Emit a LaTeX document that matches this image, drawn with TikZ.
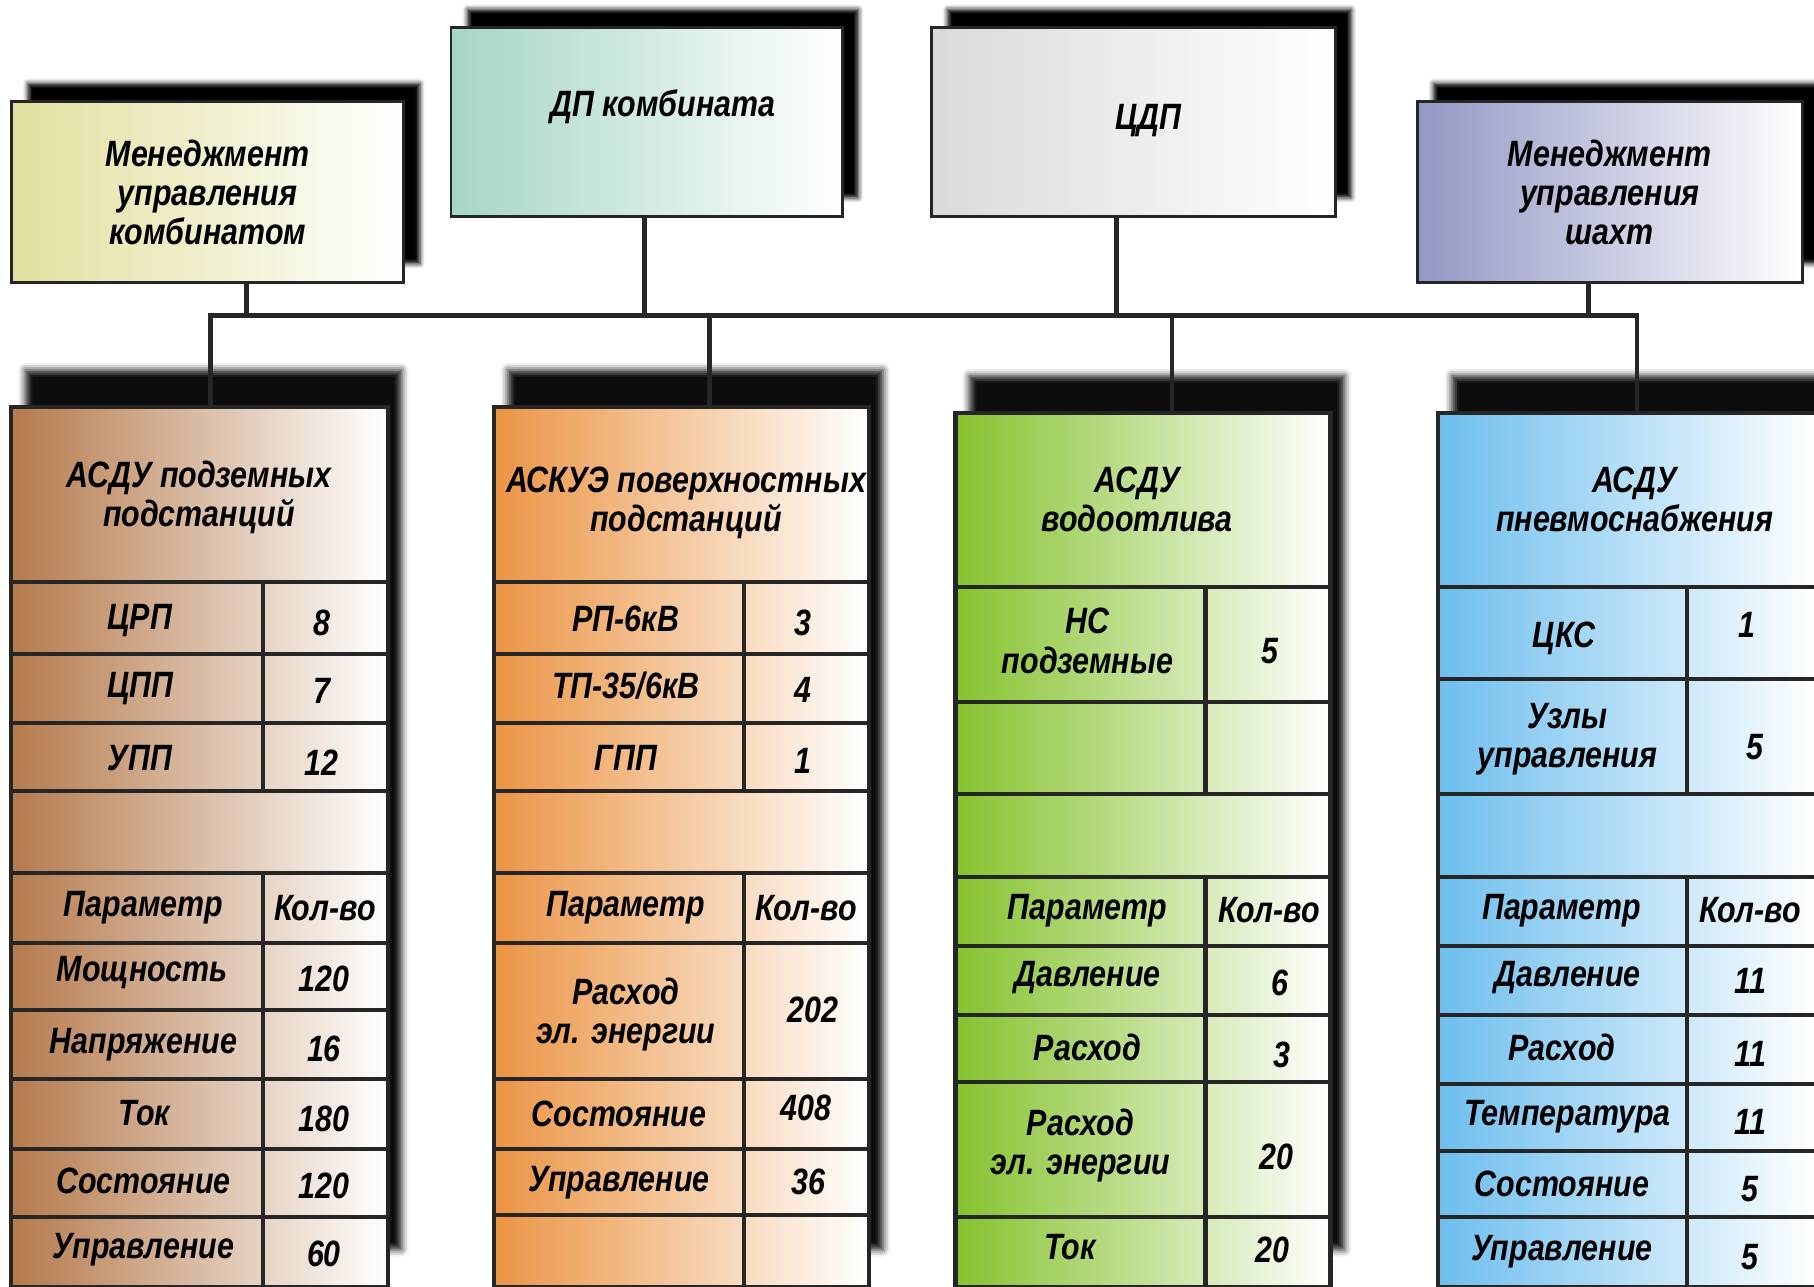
\documentclass[tikz,border=0pt]{standalone}
\usepackage{fontspec}
\newfontfamily\diafont[FakeStretch=0.83]{Liberation Sans}
\usetikzlibrary{positioning, shadows.blur}

% fill colours of the boxes
\definecolor{kombyellow}{RGB}{226,224,158}
\definecolor{dpteal}{RGB}{166,214,196}
\definecolor{cdpgray}{RGB}{218,218,218}
\definecolor{shaftblue}{RGB}{146,151,196}
\definecolor{podbrown}{RGB}{181,122,76}
\definecolor{povorange}{RGB}{235,148,68}
\definecolor{vodgreen}{RGB}{133,194,46}
\definecolor{pnevblue}{RGB}{109,190,238}

\tikzset{x=0.01cm, y=-0.01cm, % one unit = one pixel of the layout, y downwards
every node/.style={ % all labels
font=\diafont\bfseries\itshape\fontsize{9}{9.6}\selectfont,
align=center, inner sep=0pt},
topbox/.style={ % management and dispatch boxes
draw=black!85, line width=0.7pt,
left color=#1, right color=white,
blur shadow={shadow xshift=0.14cm, shadow yshift=0.16cm,
shadow opacity=100, shadow blur radius=0.04cm}},
colbox/.style={ % subsystem columns
draw=black!85, line width=1pt,
left color=#1, right color=white,
blur shadow={shadow xshift=0.12cm, shadow yshift=0.32cm,
shadow opacity=95, shadow blur radius=0.06cm}},
tabline/.style={draw=black!85, line width=1pt},
conn/.style={draw=black!85, line width=1.2pt}}

\begin{document}
\begin{tikzpicture}
    \useasboundingbox (0,0) rectangle (1568,1112);

    % top level
    \node[topbox=kombyellow, minimum width=3.39cm, minimum height=1.56cm] (b1) at (179.5,166) {Менеджмент\\управления\\комбинатом};
    \node[topbox=dpteal, minimum width=3.38cm, minimum height=1.63cm] (b2) at (559,105.5) {};
    \node (b2t) at (573,92) {ДП комбината};
    \node[topbox=cdpgray, minimum width=3.49cm, minimum height=1.63cm] (b3) at (979.5,105.5) {};
    \node (b3t) at (993,104) {ЦДП};
    \node[topbox=shaftblue, minimum width=3.33cm, minimum height=1.56cm] (b4) at (1391.5,166) {Менеджмент\\управления\\шахт};

    % subsystem columns
    \node[colbox=podbrown, minimum width=3.25cm, minimum height=7.6cm] (c1) at (172.5,732) {};
    \node[colbox=povorange, minimum width=3.24cm, minimum height=7.6cm] (c2) at (589,732) {};
    \node[colbox=vodgreen, minimum width=3.24cm, minimum height=7.55cm] (c3) at (988,734.5) {};
    \node[colbox=pnevblue, minimum width=3.27cm, minimum height=7.55cm] (c4) at (1406.5,734.5) {};

    % bus
    \coordinate (bus) at (0,273);
    \draw[conn] ([xshift=0.095cm]c1.north) |- ([xshift=0.085cm]c4.north |- bus) -- ([xshift=0.085cm]c4.north);
    \foreach \n/\s in {c2/0.24, c3/0.25}
        \draw[conn] ([xshift=\s cm]\n.north) -- ([xshift=\s cm]\n.north |- bus);
    \foreach \n/\s in {b1/0.335, b2/-0.02, b3/-0.145, b4/-0.185}
        \draw[conn] ([xshift=\s cm]\n.south) -- ([xshift=\s cm]\n.south |- bus);

    % column 1
    \foreach \y in {503,565,625,684,755,815,873,933,993,1052}
        \draw[tabline] (c1.west |- 0,\y) -- (c1.east |- 0,\y);
    \draw[tabline] (227,503) -- (227,684) (227,755) -- (227,1112);
    \node (c1h) at (172,430) {АСДУ подземных\\подстанций};
    \foreach \t/\x/\y [count=\i] in {ЦРП/121/536, 8/278/538, ЦПП/121/595, 7/278/597,
        УПП/121/655, 12/278/659, Параметр/124/785, Кол-во/281/785,
        Мощность/123/841, 120/280/846, Напряжение/124/903, 16/280/907,
        Ток/125/962, 180/280/967, Состояние/124/1021, 120/280/1025,
        Управление/124/1080, 60/280/1084}
        \node (c1t\i) at (\x,\y) {\t};

    % column 2
    \foreach \y in {503,565,625,684,755,815,933,993,1050}
        \draw[tabline] (c2.west |- 0,\y) -- (c2.east |- 0,\y);
    \draw[tabline] (643,503) -- (643,684) (643,755) -- (643,1112);
    \node (c2h) at (593,435) {АСКУЭ поверхностных\\подстанций};
    \foreach \t/\x/\y [count=\i] in {РП-6кВ/541/535, 3/694/538, {ТП-35/6кВ}/541/593, 4/694/596,
        ГПП/541/655, 1/694/658, Параметр/541/785, Кол-во/697/785,
        {Расход\\эл. энергии}/541/877, 202/703/873,
        Состояние/535/963, 408/697/958, Управление/535/1022, 36/699/1022}
        \node (c2t\i) at (\x,\y) {\t};

    % column 3
    \foreach \y in {507,607,686,758,818,877,935,1052}
        \draw[tabline] (c3.west |- 0,\y) -- (c3.east |- 0,\y);
    \draw[tabline] (1042,507) -- (1042,686) (1042,758) -- (1042,1112);
    \node (c3h) at (983,432) {АСДУ\\водоотлива};
    \foreach \t/\x/\y [count=\i] in {{НС\\подземные}/940/554, 5/1098/563,
        Параметр/940/787, Кол-во/1097/787, Давление/940/845, 6/1106/850,
        Расход/940/905, 3/1108/912, {Расход\\эл. энергии}/934/990, 20/1103/1000,
        Ток/925/1078, 20/1100/1080}
        \node (c3t\i) at (\x,\y) {\t};

    % column 4
    \foreach \y in {507,587,686,758,818,877,937,995,1052}
        \draw[tabline] (c4.west |- 0,\y) -- (c4.east |- 0,\y);
    \draw[tabline] (1458,507) -- (1458,686) (1458,758) -- (1458,1112);
    \node (c4h) at (1413,432) {АСДУ\\пневмоснабжения};
    \foreach \t/\x/\y [count=\i] in {ЦКС/1352/552, 1/1510/540,
        {Узлы\\управления}/1355/639, 5/1517/646,
        Параметр/1350/787, Кол-во/1513/787, Давление/1355/845, 11/1513/848,
        Расход/1350/905, 11/1513/911, Температура/1355/965, 11/1513/970,
        Состояние/1350/1023, 5/1513/1028, Управление/1350/1082, 5/1513/1087}
        \node (c4t\i) at (\x,\y) {\t};

\end{tikzpicture}
\end{document}
